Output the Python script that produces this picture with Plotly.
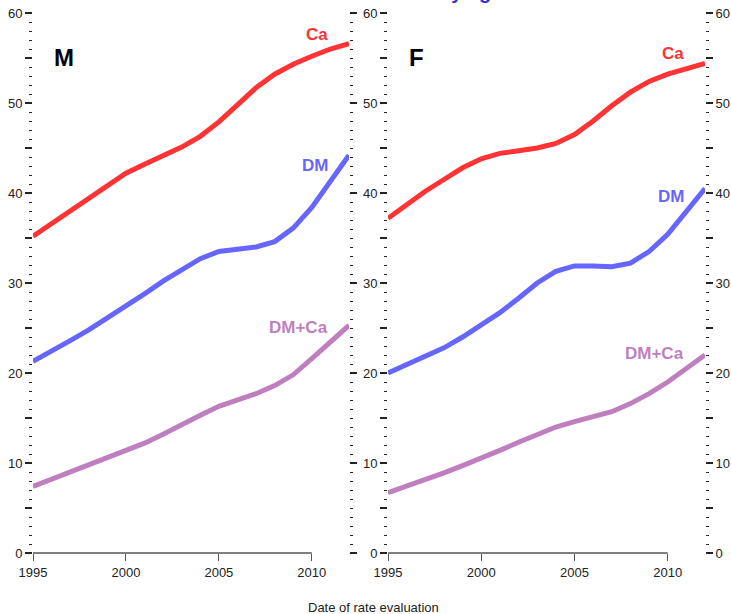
import plotly.graph_objects as go

# ---------------- data ----------------
years = [1995, 1996, 1997, 1998, 1999, 2000, 2001, 2002, 2003,
         2004, 2005, 2006, 2007, 2008, 2009, 2010, 2011, 2012]

m_ca = [35.2, 36.6, 38.0, 39.5, 40.9, 42.2, 43.2, 44.1, 45.1,
        46.3, 47.9, 49.8, 51.7, 53.2, 54.3, 55.2, 56.0, 56.6]
m_dm = [21.3, 22.4, 23.6, 24.8, 26.1, 27.4, 28.8, 30.2, 31.5,
        32.7, 33.5, 33.8, 34.0, 34.6, 36.1, 38.4, 41.4, 44.2]
m_dmca = [7.4, 8.2, 9.0, 9.8, 10.6, 11.4, 12.2, 13.2, 14.3,
          15.3, 16.3, 17.0, 17.7, 18.6, 19.8, 21.6, 23.4, 25.3]

f_ca = [37.2, 38.7, 40.2, 41.5, 42.8, 43.8, 44.4, 44.7, 45.0,
        45.5, 46.5, 48.0, 49.7, 51.2, 52.4, 53.2, 53.8, 54.4]
f_dm = [20.0, 20.9, 21.8, 22.8, 24.0, 25.3, 26.7, 28.3, 30.0,
        31.3, 31.9, 31.9, 31.8, 32.2, 33.5, 35.4, 37.9, 40.5]
f_dmca = [6.7, 7.4, 8.1, 8.9, 9.7, 10.5, 11.4, 12.3, 13.2,
          14.0, 14.6, 15.1, 15.7, 16.6, 17.7, 19.0, 20.5, 22.0]

series_names = ["Ca", "DM", "DM+Ca"]
series_colors = ["#FF3333", "#6666FF", "#BF7FBF"]
panel_names = ["M", "F"]

x_tick_vals = [1995, 2000, 2005, 2010]
x_tick_text = ["1995", "2000", "2005", "2010"]
y_tick_vals = [0, 5, 10, 15, 20, 25, 30, 35, 40, 45, 50, 55, 60]
y_tick_text = ["0", "", "10", "", "20", "", "30", "", "40", "", "50", "", "60"]

x_title = "Date of rate evaluation"
top_title = "Rates by age"

# ---------------- figure ----------------
FONT = "Liberation Sans, Arial, Helvetica, sans-serif"
TICKC = "#222222"
LINEC = "#555555"

fig = go.Figure()

panels = [
    ("x", "y", "y3", [m_ca, m_dm, m_dmca]),
    ("x2", "y2", "y4", [f_ca, f_dm, f_dmca]),
]

for (xa, ya, yr, vals) in panels:
    for name, color, v in zip(series_names, series_colors, vals):
        fig.add_trace(go.Scatter(
            x=years, y=v, mode="lines", name=name,
            line=dict(color=color, width=5),
            xaxis=xa, yaxis=ya, showlegend=False, hoverinfo="skip"))
        # series label near the end of each line
        fig.add_annotation(
            x=years[-2], y=v[-2], xref=xa, yref=ya,
            text="<b>%s</b>" % name, showarrow=False,
            xanchor="right", yanchor="middle", yshift=15,
            font=dict(family=FONT, size=17, color=color))
    # invisible trace so the right-hand axis is drawn
    fig.add_trace(go.Scatter(x=[], y=[], xaxis=xa, yaxis=yr,
                             showlegend=False, hoverinfo="skip"))

common_x = dict(
    range=[1995, 2012], tickvals=x_tick_vals, ticktext=x_tick_text,
    ticks="outside", ticklen=7, tickwidth=1.3, tickcolor=LINEC,
    showgrid=False, zeroline=False, showline=False, automargin=False,
    tickfont=dict(family=FONT, size=13, color=TICKC),
)
common_y = dict(
    range=[0, 60], tickvals=y_tick_vals, ticktext=y_tick_text,
    ticks="outside", ticklen=7, tickwidth=1.5, tickcolor=TICKC,
    minor=dict(tick0=0, dtick=1, ticks="outside", ticklen=3,
               tickwidth=1.3, tickcolor=TICKC),
    showgrid=False, zeroline=False, showline=False, automargin=False,
    tickfont=dict(family=FONT, size=13, color=TICKC),
)

left_dom = [0.0, 0.4702]
right_dom = [0.5283, 1.0]

fig.update_layout(
    width=731, height=614,
    margin=dict(l=33, r=26, t=13, b=61, autoexpand=False),
    paper_bgcolor="white", plot_bgcolor="white",
    font=dict(family=FONT, size=13, color=TICKC),
    xaxis=dict(domain=left_dom, anchor="y", **common_x),
    xaxis2=dict(domain=right_dom, anchor="y2", **common_x),
    yaxis=dict(anchor="x", side="left", **common_y),
    yaxis2=dict(anchor="x2", side="left", **common_y),
    yaxis3=dict(anchor="x", overlaying="y", side="right",
                showticklabels=False, **common_y),
    yaxis4=dict(anchor="x2", overlaying="y2", side="right",
                showticklabels=True, **common_y),
)

# x axis lines spanning only the tick range
for xa, ya in [("x", "y"), ("x2", "y2")]:
    fig.add_shape(type="line", xref=xa, yref=ya + " domain",
                  x0=x_tick_vals[0], x1=x_tick_vals[-1], y0=0, y1=0,
                  line=dict(color=LINEC, width=1.5))

# panel letters
for name, xa, ya in [(panel_names[0], "x", "y"), (panel_names[1], "x2", "y2")]:
    fig.add_annotation(
        x=0.06, y=0.9167, xref=xa + " domain", yref=ya + " domain",
        text="<b>%s</b>" % name, showarrow=False,
        xanchor="left", yanchor="middle",
        font=dict(family=FONT, size=24, color="black"))

# x title
fig.add_annotation(
    x=0.506, y=-0.1, xref="paper", yref="paper",
    text=x_title, showarrow=False, xanchor="center", yanchor="middle",
    font=dict(family=FONT, size=13, color=TICKC))

# main title, mostly above the visible page as in the reference
fig.add_annotation(
    x=(504 - 33) / 672, y=1, xref="paper", yref="paper",
    text="<b>%s</b>" % top_title, showarrow=False,
    xanchor="right", yanchor="bottom", yshift=8,
    font=dict(family=FONT, size=20, color="#3333CC"))

fig.write_html("out.html",
               config={"displayModeBar": False},
               post_script="document.body.style.margin='0';")
